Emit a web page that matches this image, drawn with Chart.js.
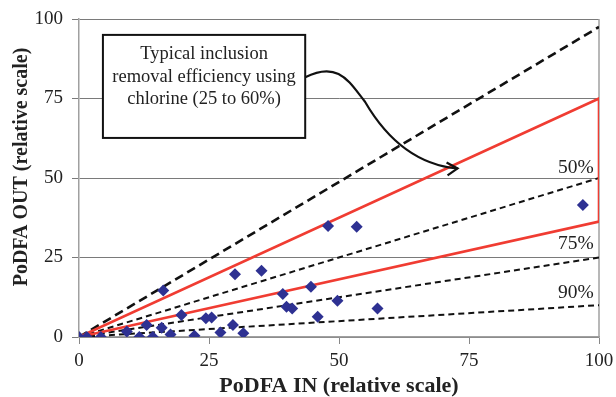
<!DOCTYPE html>
<html>
<head>
  <meta charset="UTF-8">
  <title>PoDFA IN vs OUT</title>
  <script src="https://cdn.jsdelivr.net/npm/chart.js"></script>
  <style>
    body { margin: 0; background: #fff; }
    #wrap { width: 616px; height: 397px; }
  </style>
  <script>
    // measured samples (relative scale)
    const podfaIn = [0, 1.5, 4.2, 9.2, 11.6, 13, 14.2, 15.9, 17.6, 16.2, 19.7, 22.2, 24.4, 25.5, 27.2,
                     29.6, 31.6, 30, 35.1, 39.2, 39.9, 41, 44.6, 45.9, 49.7, 47.9, 53.4, 57.4, 96.9];
    const podfaOut = [0, 0, 0, 1.7, 0, 3.8, 0, 2.9, 0.8, 14.6, 6.9, 0.4, 5.9, 6.1, 1.4,
                      3.8, 1.2, 19.7, 20.8, 13.5, 9.5, 9, 15.8, 6.4, 11.4, 34.9, 34.7, 9, 41.5];

    // reference lines: OUT at IN = 100
    const lineEnds = [0, 100];
    const noRemoval = [0, 97.5];
    const eff50 = [0, 50];
    const eff75 = [0, 25];
    const eff90 = [0, 10];

    // chlorine band outline (25 to 60 %)
    const bandX = [0, 100, 100, 0];
    const bandY = [0, 75, 36.3, 0];

    const effLabels = ['50%', '75%', '90%'];
    const effLabelY = [53.3, 29.4, 14];

    const noteLines = ['Typical inclusion', 'removal efficiency using', 'chlorine (25 to 60%)'];

    const pts = (xs, ys) => xs.map((x, i) => ({ x: x, y: ys[i] }));

    const serif = '"Liberation Serif", "Times New Roman", serif';

    const frame = {
      id: 'frame',
      beforeDatasetsDraw(chart) {
        const ctx = chart.ctx;
        const area = chart.chartArea;
        ctx.save();
        ctx.strokeStyle = '#a0a0a0';
        ctx.lineWidth = 1.5;
        ctx.beginPath();
        ctx.moveTo(area.right, area.top);
        ctx.lineTo(area.right, area.bottom);
        ctx.stroke();
        ctx.restore();
      }
    };

    const extras = {
      id: 'extras',
      afterDraw(chart) {
        const ctx = chart.ctx;
        const xs = chart.scales.x, ys = chart.scales.y;
        const area = chart.chartArea;
        ctx.save();

        // axis titles
        ctx.fillStyle = '#222';
        ctx.textAlign = 'center';
        ctx.textBaseline = 'middle';
        ctx.font = 'bold 22px ' + serif;
        ctx.fillText('PoDFA IN (relative scale)', (area.left + area.right) / 2, area.bottom + 49);
        ctx.save();
        ctx.translate(22, area.top + 148);
        ctx.rotate(-Math.PI / 2);
        ctx.font = 'bold 20px ' + serif;
        ctx.fillText('PoDFA OUT (relative scale)', 0, 0);
        ctx.restore();

        // efficiency labels
        ctx.font = '19.5px ' + serif;
        ctx.textAlign = 'right';
        effLabels.forEach((t, i) => {
          ctx.fillText(t, xs.getPixelForValue(99), ys.getPixelForValue(effLabelY[i]));
        });

        // note box
        const bx1 = xs.getPixelForValue(4.6), bx2 = xs.getPixelForValue(43.5);
        const by1 = ys.getPixelForValue(95), by2 = ys.getPixelForValue(62.6);
        ctx.fillStyle = '#fff';
        ctx.fillRect(bx1, by1, bx2 - bx1, by2 - by1);
        ctx.strokeStyle = '#111';
        ctx.lineWidth = 2;
        ctx.strokeRect(bx1, by1, bx2 - bx1, by2 - by1);
        ctx.fillStyle = '#222';
        ctx.font = '18.5px ' + serif;
        ctx.textAlign = 'center';
        const cx = (bx1 + bx2) / 2;
        const cy = ys.getPixelForValue(81.8);
        noteLines.forEach((t, i) => ctx.fillText(t, cx, cy + (i - 1) * 22.5));

        // curved arrow
        const p = (x, y) => [xs.getPixelForValue(x), ys.getPixelForValue(y)];
        const a0 = p(43.5, 81.7), c1 = p(50, 87), c2 = p(52, 80), m = p(55, 74);
        const c3 = p(60, 60), c4 = p(66, 54), tip = p(72.8, 53);
        ctx.strokeStyle = '#111';
        ctx.lineWidth = 2.2;
        ctx.beginPath();
        ctx.moveTo(a0[0], a0[1]);
        ctx.bezierCurveTo(c1[0], c1[1], c2[0], c2[1], m[0], m[1]);
        ctx.bezierCurveTo(c3[0], c3[1], c4[0], c4[1], tip[0], tip[1]);
        ctx.stroke();
        ctx.beginPath();
        ctx.moveTo(tip[0] - 11, tip[1] - 6);
        ctx.lineTo(tip[0], tip[1]);
        ctx.lineTo(tip[0] - 10, tip[1] + 7);
        ctx.stroke();

        ctx.restore();
      }
    };

    window.onload = () => {
      const ctx = document.getElementById('chart').getContext('2d');
      const dashSet = (ys, w, dash) => ({
        type: 'line',
        data: pts(lineEnds, ys),
        borderColor: '#111',
        borderWidth: w,
        borderDash: dash,
        pointRadius: 0,
        showLine: true,
        order: 2
      });

      new Chart(ctx, {
        type: 'scatter',
        data: {
          datasets: [
            {
              label: 'samples',
              data: pts(podfaIn, podfaOut),
              pointStyle: 'rectRot',
              pointRadius: 6,
              backgroundColor: '#2e3192',
              borderColor: '#2e3192',
              borderWidth: 0,
              order: 0
            },
            dashSet(noRemoval, 2.6, [9, 5]),
            dashSet(eff50, 2, [6, 4]),
            dashSet(eff75, 2, [6, 4]),
            dashSet(eff90, 2, [6, 4]),
            {
              type: 'line',
              data: pts(bandX, bandY),
              borderColor: '#f03c32',
              borderWidth: 2.6,
              pointRadius: 0,
              showLine: true,
              order: 1
            }
          ]
        },
        options: {
          responsive: false,
          animation: false,
          layout: { padding: { top: 19, right: 17, left: 0, bottom: 0 } },
          plugins: { legend: { display: false }, tooltip: { enabled: false } },
          scales: {
            x: {
              type: 'linear',
              min: 0, max: 100,
              afterFit: (s) => { s.height = 60; s.paddingLeft = 0; s.paddingRight = 0; },
              ticks: { stepSize: 25, color: '#222', font: { family: serif, size: 19 }, padding: 6 },
              grid: { drawOnChartArea: false, drawTicks: true, tickLength: 7, color: '#888' },
              border: { color: '#a0a0a0', width: 1.5 }
            },
            y: {
              type: 'linear',
              min: 0, max: 100,
              afterFit: (s) => { s.width = 79; s.paddingTop = 0; s.paddingBottom = 0; },
              ticks: { stepSize: 25, color: '#222', font: { family: serif, size: 19 }, padding: 9 },
              grid: { color: '#7a7a7a', lineWidth: 1, tickLength: 7 },
              border: { color: '#a0a0a0', width: 1.5 }
            }
          }
        },
        plugins: [frame, extras]
      });
    };
  </script>
</head>
<body>
  <div id="wrap"><canvas id="chart" width="616" height="397"></canvas></div>
</body>
</html>
